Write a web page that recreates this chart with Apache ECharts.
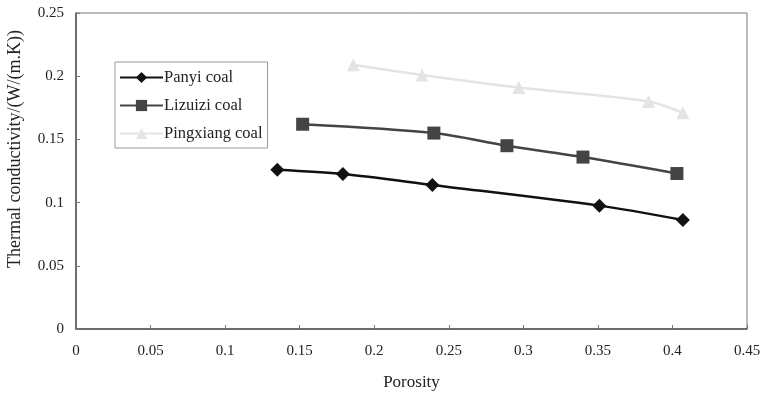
<!DOCTYPE html>
<html>
<head>
<meta charset="utf-8">
<script src="https://cdn.jsdelivr.net/npm/echarts@6/dist/echarts.min.js"></script>
<style>
  html, body { margin: 0; padding: 0; background: #fff; }
  #main { width: 762px; height: 393px; }
</style>
</head>
<body>
<div id="main"></div>
<script>
var panyiX = [0.135, 0.179, 0.239, 0.351, 0.407];
var panyiY = [0.126, 0.1226, 0.114, 0.0976, 0.0862];
var lizuiziX = [0.152, 0.240, 0.289, 0.340, 0.403];
var lizuiziY = [0.162, 0.155, 0.145, 0.136, 0.123];
var pingxiangX = [0.186, 0.232, 0.297, 0.384, 0.407];
var pingxiangY = [0.209, 0.201, 0.191, 0.180, 0.171];

function pairs(xs, ys) {
    return xs.map(function (x, i) { return [x, ys[i]]; });
}

var font = 'Liberation Serif';
var mychart = echarts.init(document.getElementById('main'));

var option = {
    animation: false,
    textStyle: { fontFamily: font },
    grid: {
        left: 76, right: 15, top: 13, bottom: 64,
        outerBoundsMode: 'none',
        containLabel: false,
        show: true,
        borderColor: '#777',
        borderWidth: 1
    },
    legend: {
        orient: 'vertical',
        left: 115,
        top: 62,
        padding: [7, 5, 6, 4],
        itemGap: 11,
        itemWidth: 43,
        itemHeight: 14,
        borderColor: '#999',
        borderWidth: 1,
        textStyle: { fontFamily: font, fontSize: 16.5, color: '#222', padding: [0, 0, 0, -4] },
        data: ['Panyi coal', 'Lizuizi coal', 'Pingxiang coal']
    },
    xAxis: {
        type: 'value',
        min: 0, max: 0.45, interval: 0.05,
        name: 'Porosity',
        nameLocation: 'middle',
        nameGap: 45,
        nameTextStyle: { fontFamily: font, fontSize: 17, color: '#222' },
        axisLine: { show: true, lineStyle: { color: '#555', width: 1.5 } },
        axisTick: { show: true, inside: true, length: 4, lineStyle: { color: '#777' } },
        axisLabel: { fontFamily: font, fontSize: 15, color: '#222', margin: 15 },
        splitLine: { show: false }
    },
    yAxis: {
        type: 'value',
        min: 0, max: 0.25, interval: 0.05,
        name: 'Thermal conductivity/(W/(m.K))',
        nameLocation: 'middle',
        nameGap: 52,
        nameTextStyle: { fontFamily: font, fontSize: 18, color: '#222', padding: [0, 0, 0, 44] },
        axisLine: { show: true, lineStyle: { color: '#555', width: 1.5 } },
        axisTick: { show: true, inside: true, length: 4, lineStyle: { color: '#777' } },
        axisLabel: { fontFamily: font, fontSize: 15, color: '#222', margin: 12 },
        splitLine: { show: false }
    },
    series: [
        {
            name: 'Panyi coal',
            type: 'line',
            smooth: 0.3,
            symbol: 'diamond',
            symbolSize: 14,
            lineStyle: { color: '#111', width: 2.5 },
            itemStyle: { color: '#111' },
            data: pairs(panyiX, panyiY)
        },
        {
            name: 'Lizuizi coal',
            type: 'line',
            smooth: 0.3,
            symbol: 'rect',
            symbolSize: 13,
            lineStyle: { color: '#444', width: 2.5 },
            itemStyle: { color: '#444' },
            data: pairs(lizuiziX, lizuiziY)
        },
        {
            name: 'Pingxiang coal',
            type: 'line',
            smooth: 0.3,
            symbol: 'triangle',
            symbolSize: 13,
            lineStyle: { color: '#e4e4e4', width: 2.5 },
            itemStyle: { color: '#e4e4e4' },
            data: pairs(pingxiangX, pingxiangY)
        }
    ]
};
mychart.setOption(option);
</script>
</body>
</html>
